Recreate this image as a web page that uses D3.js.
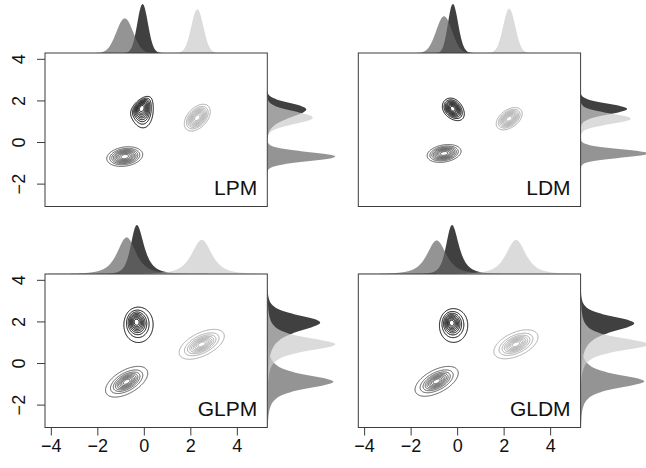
<!DOCTYPE html>
<html>
<head>
<meta charset="utf-8">
<script src="https://cdn.jsdelivr.net/npm/d3@7"></script>
<style>
  body { margin: 0; background: #fff; }
  svg { display: block; font-family: "Liberation Sans", Arial, Helvetica, sans-serif; }
</style>
</head>
<body>
<svg id="chart" width="646" height="468"></svg>
<script>
// tick labels
const xTicks = [-4, -2, 0, 2, 4];
const yTicks = [-2, 0, 2, 4];

// panels, left to right, top to bottom
const panelNames = ["LPM", "LDM", "GLPM", "GLDM"];
const tailNu = [0, 0, 2.5, 2.5];   // 0 = gaussian core, otherwise heavier t-like tails

// mixture components per panel: [dark, mid, light]
const weight = [[0.9, 1, 1], [1, 1, 1], [0.775, 1, 1], [0.8, 1, 1]];
const modeX = [[-0.09, -0.82, 2.30], [-0.19, -0.56, 2.24], [-0.31, -0.74, 2.49], [-0.23, -0.88, 2.53]];
const modeY = [[1.62, -0.70, 1.17], [1.60, -0.55, 1.12], [1.97, -0.90, 0.90], [1.93, -0.88, 0.90]];
const sdX   = [[0.25, 0.36, 0.26], [0.27, 0.34, 0.26], [0.31, 0.43, 0.46], [0.30, 0.44, 0.45]];
const sdY   = [[0.52, 0.22, 0.30], [0.31, 0.20, 0.25], [0.43, 0.35, 0.34], [0.41, 0.34, 0.33]];
const corr  = [[-0.2, 0.2, 0.45], [-0.55, 0.25, 0.45], [-0.15, 0.55, 0.55], [-0.15, 0.55, 0.5]];
const skewX = [[1.2, 0, 0], [0.8, 0, 0], [0.5, 0, 0], [0.5, 0, 0]];
const skewY = [[-3.0, 0, 0], [-0.8, 0, 0], [-0.6, 0, 0], [-0.6, 0, 0]];

// styling
const lineColors = ["#000000", "#555555", "#a8a8a8"];
const lineWidths = [1, 1, 1];
const fillColors = ["rgba(0,0,0,0.75)", "rgba(102,102,102,0.7)", "rgba(204,204,204,0.7)"];

const svg = d3.select("#chart");
const colLeft = [45, 358.3], boxW = 222.3;
const rowTop = [53, 274], boxH = 153.5;
const xDom = [-4.25, 5.31], yDom = [-3.1, 4.28];
const topH = 49, rightW = 68;

// evaluation grid (wider than plot so marginals integrate the tails)
const step = 0.025, gx0 = -7.5, gy0 = -6.5;
const nx = 641, ny = 601;
const gxs = d3.range(nx).map(i => gx0 + i * step);
const gys = d3.range(ny).map(j => gy0 + j * step);

function normCdf(z) {
  const t = 1 / (1 + 0.3275911 * Math.abs(z) / Math.SQRT2);
  const e = 1 - (((((1.061405429 * t - 1.453152027) * t) + 1.421413741) * t - 0.284496736) * t + 0.254829592) * t * Math.exp(-z * z / 2);
  return z >= 0 ? 0.5 * (1 + e) : 0.5 * (1 - e);
}

function makeDensity(p, k) {
  const sx = sdX[p][k], sy = sdY[p][k], r = corr[p][k], w = weight[p][k];
  const ax = skewX[p][k], ay = skewY[p][k], nu = tailNu[p];
  const raw = (zx, zy) => {
    const q = (zx * zx - 2 * r * zx * zy + zy * zy) / (1 - r * r);
    const core = nu ? Math.pow(1 + q / nu, -(nu + 2) / 2) : Math.exp(-q / 2);
    return core * normCdf(ax * zx + ay * zy);
  };
  // find where the peak of the standardized shape sits, so the mode lands on modeX/modeY
  let best = -1, bu = 0, bv = 0;
  for (let u = -3; u <= 3; u += 0.02) {
    for (let v = -3; v <= 3; v += 0.02) {
      const f = raw(u, v);
      if (f > best) { best = f; bu = u; bv = v; }
    }
  }
  const lx = modeX[p][k] - bu * sx, ly = modeY[p][k] - bv * sy;
  return (x, y) => w * raw((x - lx) / sx, (y - ly) / sy) / (sx * sy);
}

panelNames.forEach((name, p) => {
  const x0 = colLeft[p % 2], y0 = rowTop[Math.floor(p / 2)];
  const X = d3.scaleLinear().domain(xDom).range([x0, x0 + boxW]);
  const Y = d3.scaleLinear().domain(yDom).range([y0 + boxH, y0]);
  const g = svg.append("g");

  // clip paths
  const defs = svg.append("defs");
  defs.append("clipPath").attr("id", "box" + p)
      .append("rect").attr("x", x0).attr("y", y0).attr("width", boxW).attr("height", boxH);
  defs.append("clipPath").attr("id", "top" + p)
      .append("rect").attr("x", x0).attr("y", y0 - topH - 10).attr("width", boxW).attr("height", topH + 10);
  defs.append("clipPath").attr("id", "right" + p)
      .append("rect").attr("x", x0 + boxW).attr("y", y0).attr("width", rightW + 10).attr("height", boxH);

  // evaluate each component on the grid
  const comps = [0, 1, 2].map(k => {
    const f = makeDensity(p, k);
    const vals = new Float64Array(nx * ny);
    const mx = new Float64Array(nx), my = new Float64Array(ny);
    for (let j = 0; j < ny; j++) {
      for (let i = 0; i < nx; i++) {
        const v = f(gxs[i], gys[j]);
        vals[j * nx + i] = v;
        mx[i] += v * step;
        my[j] += v * step;
      }
    }
    return { vals, mx, my, max: d3.max(vals) };
  });

  const inX = d3.range(nx).filter(i => gxs[i] >= xDom[0] && gxs[i] <= xDom[1]);
  const inY = d3.range(ny).filter(j => gys[j] >= yDom[0] && gys[j] <= yDom[1]);
  const topScale = topH / d3.max(comps, c => d3.max(inX, i => c.mx[i]));
  const rightScale = rightW / d3.max(comps, c => d3.max(inY, j => c.my[j]));

  // marginal densities
  const gTop = g.append("g").attr("clip-path", `url(#top${p})`);
  const gRight = g.append("g").attr("clip-path", `url(#right${p})`);
  comps.forEach((c, k) => {
    const topArea = d3.area().x(i => X(gxs[i])).y0(y0).y1(i => y0 - c.mx[i] * topScale);
    const rightArea = d3.area().y(j => Y(gys[j])).x0(x0 + boxW).x1(j => x0 + boxW + c.my[j] * rightScale);
    gTop.append("path").attr("d", topArea(inX)).attr("fill", fillColors[k]);
    gRight.append("path").attr("d", rightArea(inY)).attr("fill", fillColors[k]);
  });

  // contours, nine levels per component relative to its own peak
  const proj = d3.geoTransform({
    point(u, v) { this.stream.point(X(gx0 + (u - 0.5) * step), Y(gy0 + (v - 0.5) * step)); }
  });
  const path = d3.geoPath(proj);
  const gC = g.append("g").attr("clip-path", `url(#box${p})`);
  comps.forEach((c, k) => {
    const levels = d3.range(1, 10).map(l => l / 10 * c.max);
    const cs = d3.contours().size([nx, ny]).thresholds(levels)(c.vals);
    gC.selectAll(null).data(cs).join("path")
      .attr("d", path)
      .attr("fill", "none")
      .attr("stroke", lineColors[k])
      .attr("stroke-width", lineWidths[k]);
  });

  // box
  g.append("rect").attr("x", x0).attr("y", y0).attr("width", boxW).attr("height", boxH)
   .attr("fill", "none").attr("stroke", "#3c3c3c").attr("stroke-width", 1);

  g.append("text").attr("x", x0 + boxW - 10).attr("y", y0 + boxH - 12)
   .attr("text-anchor", "end").attr("font-size", 21).attr("fill", "#111").text(name);

  // axes
  if (p >= 2) {
    const ax = g.append("g").attr("transform", `translate(0,${y0 + boxH})`)
      .call(d3.axisBottom(X).tickValues(xTicks).tickSize(8));
    ax.select(".domain").remove();
    ax.selectAll("line").attr("stroke", "#3c3c3c");
    ax.selectAll("text").attr("y", 24.7).attr("dy", 0).attr("font-size", 18)
      .attr("font-family", null).attr("fill", "#111");
  }
  if (p % 2 === 0) {
    const ay = g.append("g").attr("transform", `translate(${x0},0)`)
      .call(d3.axisLeft(Y).tickValues(yTicks).tickSize(8));
    ay.select(".domain").remove();
    ay.selectAll("line").attr("stroke", "#3c3c3c");
    ay.selectAll("text").attr("x", 0).attr("y", -20).attr("dy", 0)
      .attr("transform", "rotate(-90)").attr("text-anchor", "middle")
      .attr("font-size", 18).attr("font-family", null).attr("fill", "#111");
  }
});
</script>
</body>
</html>
